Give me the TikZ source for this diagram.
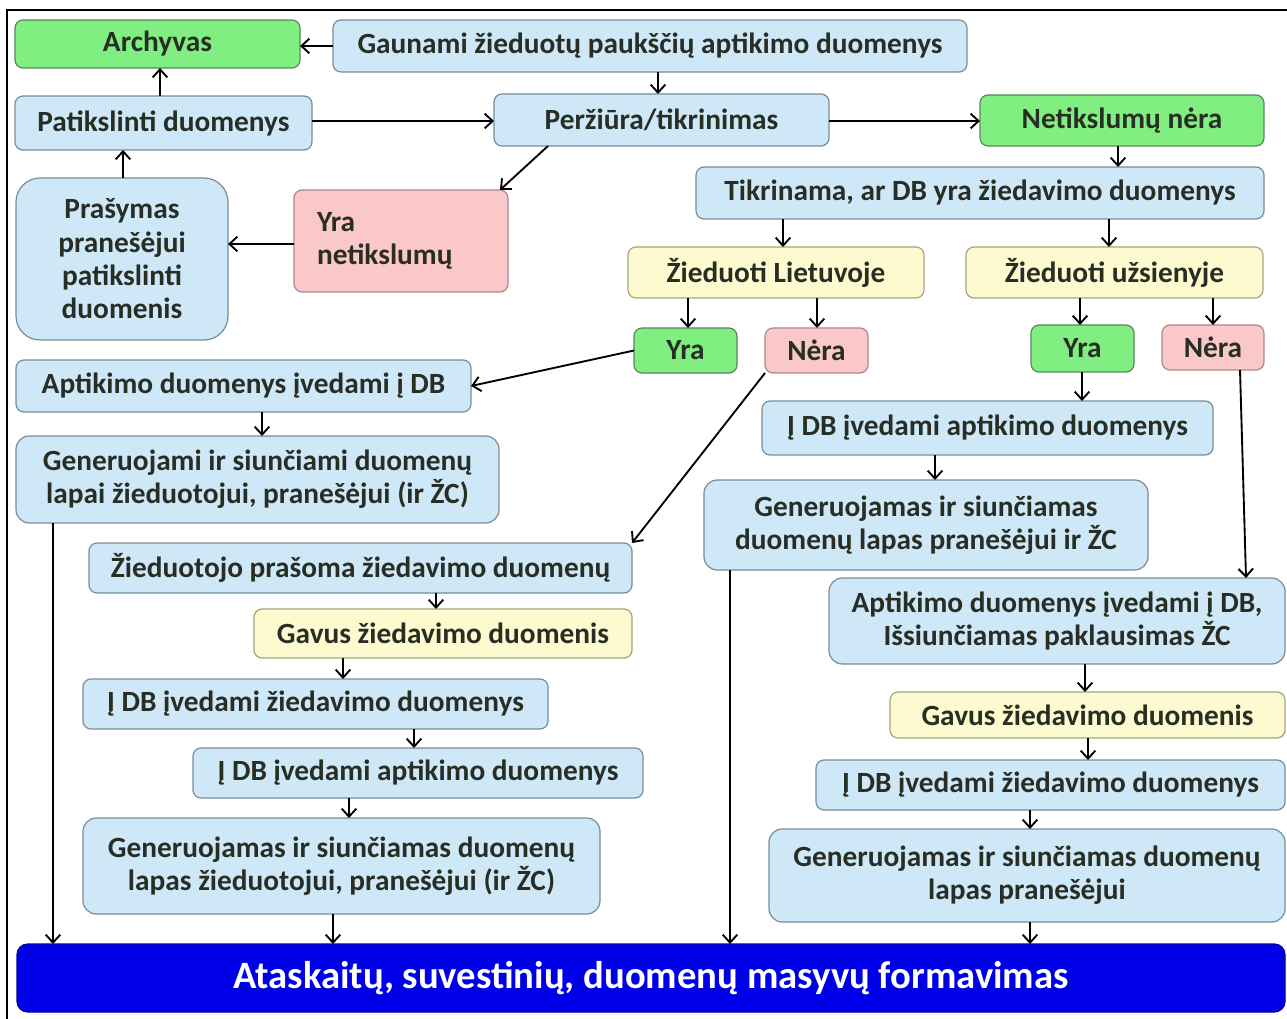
\documentclass[tikz,border=0pt]{standalone}
\usepackage{fontspec}
\setmainfont{Carlito}
\usetikzlibrary{arrows.meta}
\definecolor{bluefill}{RGB}{207,232,248}
\definecolor{blueline}{RGB}{120,140,155}
\definecolor{greenfill}{RGB}{128,238,128}
\definecolor{greenline}{RGB}{90,135,90}
\definecolor{pinkfill}{RGB}{250,200,200}
\definecolor{pinkline}{RGB}{175,135,135}
\definecolor{yellowfill}{RGB}{252,250,206}
\definecolor{yellowline}{RGB}{165,165,125}
\definecolor{txt}{RGB}{40,46,36}
\definecolor{darkblue}{RGB}{0,0,232}
\newcommand\mkbox[7]{\node[#1,minimum width={(#4-#2)*0.75pt},minimum height={(#5-#3)*0.75pt}] (#6) at ({(#2+#4)/2},{(#3+#5)/2}) {#7};}
\begin{document}
\begin{tikzpicture}[x=0.75pt,y=-0.75pt,
  box/.style={rounded corners=6pt, draw, line width=0.9pt, inner sep=0pt, outer sep=0pt, align=center, font=\fontsize{22}{25}\selectfont\bfseries, text=txt},
  bluebox/.style={box, fill=bluefill, draw=blueline},
  greenbox/.style={box, fill=greenfill, draw=greenline},
  pinkbox/.style={box, fill=pinkfill, draw=pinkline},
  yellowbox/.style={box, fill=yellowfill, draw=yellowline},
  finalbox/.style={box, rounded corners=8pt, fill=darkblue, draw=darkblue!70!black, text=white, font=\fontsize{29}{32}\selectfont\bfseries},
  arr/.style={-{Straight Barb[length=6pt,width=11pt]}, line width=1.4pt, draw=black},
  frame/.style={line width=1.5pt, draw=black}]
\useasboundingbox (0,0) rectangle (1287,1019);
\clip (0,0) rectangle (1287,1019);
\fill[white] (0,0) rectangle (1287,1019);
\draw[frame] (7,1019) -- (7,10) -- (1287,10);

\mkbox{greenbox}{15}{20}{300}{68}{arch}{Archyvas}
\mkbox{bluebox}{333}{20}{967}{72}{gau}{Gaunami žieduotų paukščių aptikimo duomenys}
\mkbox{bluebox}{15}{96}{312}{150}{pat}{Patikslinti duomenys}
\mkbox{bluebox}{494}{94}{829}{146}{per}{Peržiūra/tikrinimas}
\mkbox{greenbox}{980}{95}{1264}{146}{net}{Netikslumų nėra}
\mkbox{bluebox}{696}{167}{1264}{219}{tik}{Tikrinama, ar DB yra žiedavimo duomenys}
\mkbox{bluebox,rounded corners=18pt}{16}{178}{228}{340}{pra}{Prašymas\\pranešėjui\\patikslinti\\duomenis}
\mkbox{pinkbox,text width={(508-294-46)*0.75pt},align=left}{294}{190}{508}{292}{yran}{Yra\\netikslumų}
\mkbox{yellowbox}{628}{247}{924}{298}{zl}{Žieduoti Lietuvoje}
\mkbox{yellowbox}{966}{247}{1263}{298}{zu}{Žieduoti užsienyje}
\mkbox{greenbox}{634}{328}{737}{373}{yl}{Yra}
\mkbox{pinkbox}{765}{328}{868}{373}{nl}{Nėra}
\mkbox{greenbox}{1031}{325}{1134}{372}{yr}{Yra}
\mkbox{pinkbox}{1162}{325}{1264}{370}{nr}{Nėra}
\mkbox{bluebox}{16}{360}{471}{412}{apt}{Aptikimo duomenys įvedami į DB}
\mkbox{bluebox,rounded corners=10pt}{16}{436}{499}{523}{gen1}{Generuojami ir siunčiami duomenų\\lapai žieduotojui, pranešėjui (ir ŽC)}
\mkbox{bluebox}{762}{401}{1213}{455}{dbr}{Į DB įvedami aptikimo duomenys}
\mkbox{bluebox,rounded corners=10pt}{704}{480}{1148}{570}{gen2}{Generuojamas ir siunčiamas\\duomenų lapas pranešėjui ir ŽC}
\mkbox{bluebox}{89}{543}{632}{593}{zpr}{Žieduotojo prašoma žiedavimo duomenų}
\mkbox{bluebox,rounded corners=10pt}{829}{578}{1285}{664}{aptr}{Aptikimo duomenys įvedami į DB,\\Išsiunčiamas paklausimas ŽC}
\mkbox{yellowbox}{254}{609}{632}{658}{gavl}{Gavus žiedavimo duomenis}
\mkbox{bluebox}{83}{679}{548}{729}{dbzl}{Į DB įvedami žiedavimo duomenys}
\mkbox{yellowbox}{890}{692}{1285}{738}{gavr}{Gavus žiedavimo duomenis}
\mkbox{bluebox}{193}{748}{643}{798}{dbal}{Į DB įvedami aptikimo duomenys}
\mkbox{bluebox}{816}{760}{1285}{810}{dbzr}{Į DB įvedami žiedavimo duomenys}
\mkbox{bluebox,rounded corners=10pt}{83}{818}{600}{914}{gen3}{Generuojamas ir siunčiamas duomenų\\lapas žieduotojui, pranešėjui (ir ŽC)}
\mkbox{bluebox,rounded corners=10pt}{769}{829}{1285}{922}{gen4}{Generuojamas ir siunčiamas duomenų\\lapas pranešėjui}
\mkbox{finalbox}{17}{944}{1285}{1012}{fin}{Ataskaitų, suvestinių, duomenų masyvų formavimas}

\draw[arr] (gau.west) -- (arch.east |- gau.west);
\draw[arr] (gau.south -| 658,0) -- (per.north -| 658,0);
\draw[arr] (pat.north -| 160,0) -- (arch.south -| 160,0);
\draw[arr] (pat.east |- 0,121) -- (per.west |- 0,121);
\draw[arr] (per.east |- 0,121) -- (net.west |- 0,121);
\draw[arr] (per.south -| 548,0) -- (yran.north -| 500,0);
\draw[arr] (yran.west |- 0,244) -- (pra.east |- 0,244);
\draw[arr] (pra.north -| 123,0) -- (pat.south -| 123,0);
\draw[arr] (net.south -| 1118,0) -- (tik.north -| 1118,0);
\draw[arr] (tik.south -| 783,0) -- (zl.north -| 783,0);
\draw[arr] (tik.south -| 1109,0) -- (zu.north -| 1109,0);
\draw[arr] (zl.south -| 688,0) -- (yl.north -| 688,0);
\draw[arr] (zl.south -| 817,0) -- (nl.north -| 817,0);
\draw[arr] (zu.south -| 1080,0) -- (yr.north -| 1080,0);
\draw[arr] (zu.south -| 1213,0) -- (nr.north -| 1213,0);
\draw[arr] (yl.west) -- (apt.east);
\draw[arr] (nl.south west) -- (zpr.north east);
\draw[arr] (yr.south -| 1082,0) -- (dbr.north -| 1082,0);
\draw[arr] (nr.south -| 1240,0) -- (aptr.north -| 1246,0);
\draw[arr] (apt.south -| 262,0) -- (gen1.north -| 262,0);
\draw[arr] (gen1.south -| 53,0) -- (fin.north -| 53,0);
\draw[arr] (dbr.south -| 935,0) -- (gen2.north -| 935,0);
\draw[arr] (gen2.south -| 730,0) -- (fin.north -| 730,0);
\draw[arr] (zpr.south -| 436,0) -- (gavl.north -| 436,0);
\draw[arr] (gavl.south -| 343,0) -- (dbzl.north -| 343,0);
\draw[arr] (dbzl.south -| 414,0) -- (dbal.north -| 414,0);
\draw[arr] (dbal.south -| 349,0) -- (gen3.north -| 349,0);
\draw[arr] (gen3.south -| 333,0) -- (fin.north -| 333,0);
\draw[arr] (aptr.south -| 1085,0) -- (gavr.north -| 1085,0);
\draw[arr] (gavr.south -| 1088,0) -- (dbzr.north -| 1088,0);
\draw[arr] (dbzr.south -| 1030,0) -- (gen4.north -| 1030,0);
\draw[arr] (gen4.south -| 1030,0) -- (fin.north -| 1030,0);
\end{tikzpicture}
\end{document}
